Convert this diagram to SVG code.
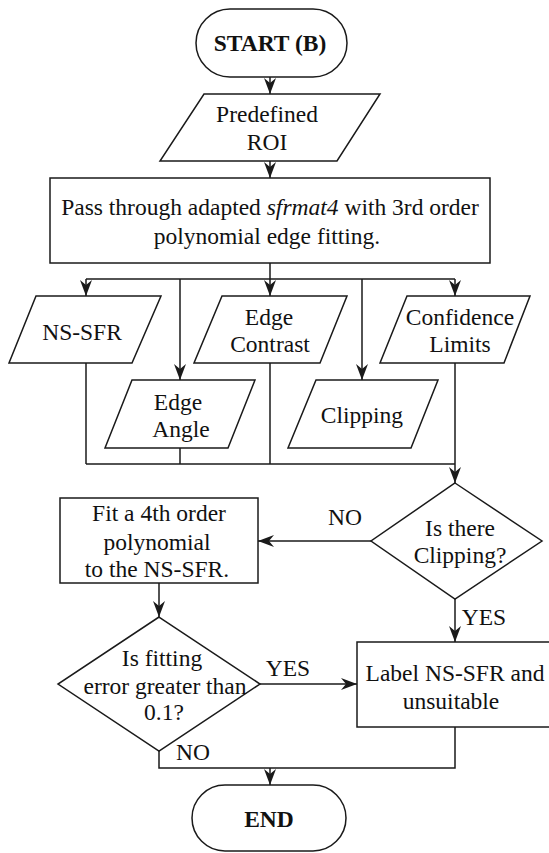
<svg xmlns="http://www.w3.org/2000/svg" width="549" height="853" viewBox="0 0 549 853">
  <style>
    .shape { fill: #ffffff; stroke: #1a1a1a; stroke-width: 1.5; }
    .conn { fill: none; stroke: #1a1a1a; stroke-width: 1.5; }
    .arr { marker-end: url(#ah); }
    text { font-family: "Liberation Serif", "Times New Roman", serif; font-size: 23.5px; fill: #111; text-anchor: middle; dominant-baseline: central; }
    .bold { font-weight: bold; }
  </style>
  <defs>
    <marker id="ah" markerUnits="userSpaceOnUse" viewBox="0 0 16 12" refX="16" refY="6" markerWidth="16" markerHeight="12" orient="auto">
      <path d="M0,0 L16,6 L0,12 L5,6 Z" fill="#1a1a1a"/>
    </marker>
  </defs>
  <rect width="549" height="853" fill="#ffffff"/>

  <g id="connectors">
    <line class="conn arr" x1="270" y1="77" x2="270" y2="94"/>
    <line class="conn arr" x1="270" y1="161" x2="270" y2="178"/>
    <line class="conn" x1="270" y1="263" x2="270" y2="279"/>
    <line class="conn" x1="86" y1="279" x2="455" y2="279"/>
    <line class="conn arr" x1="86" y1="279" x2="86" y2="296"/>
    <line class="conn arr" x1="180" y1="279" x2="180" y2="380"/>
    <line class="conn arr" x1="270" y1="279" x2="270" y2="296"/>
    <line class="conn arr" x1="362" y1="279" x2="362" y2="380"/>
    <line class="conn arr" x1="455" y1="279" x2="455" y2="296"/>
    <line class="conn" x1="86" y1="363" x2="86" y2="464"/>
    <line class="conn" x1="180" y1="448" x2="180" y2="464"/>
    <line class="conn" x1="270" y1="363" x2="270" y2="464"/>
    <line class="conn" x1="86" y1="464" x2="455" y2="464"/>
    <line class="conn arr" x1="455" y1="363" x2="455" y2="483"/>
    <line class="conn arr" x1="371" y1="541" x2="258" y2="541"/>
    <line class="conn arr" x1="455" y1="599" x2="455" y2="642"/>
    <line class="conn arr" x1="159" y1="583" x2="159" y2="617"/>
    <line class="conn arr" x1="260" y1="684" x2="357" y2="684"/>
    <polyline class="conn" points="159,751 159,768 455,768 455,727"/>
    <line class="conn arr" x1="270" y1="768" x2="270" y2="785"/>
    <text x="345" y="517">NO</text>
    <text x="484" y="617">YES</text>
    <text x="288" y="668">YES</text>
    <text x="193" y="752">NO</text>
  </g>

  <g id="start">
    <rect class="shape" x="196" y="9" width="151" height="68" rx="34" ry="34"/>
    <text class="bold" x="270" y="43">START (B)</text>
  </g>

  <g id="predefined-roi">
    <polygon class="shape" points="204,94 380,94 337,161 160,161"/>
    <text x="267" y="114">Predefined</text>
    <text x="267" y="142">ROI</text>
  </g>

  <g id="sfrmat4">
    <rect class="shape" x="50" y="178" width="440" height="85"/>
    <text x="270" y="207">Pass through adapted <tspan font-style="italic">sfrmat4</tspan> with 3rd order</text>
    <text x="267" y="236">polynomial edge fitting.</text>
  </g>

  <g id="ns-sfr">
    <polygon class="shape" points="36,296 161,296 132,363 9,363"/>
    <text x="82" y="332">NS-SFR</text>
  </g>

  <g id="edge-contrast">
    <polygon class="shape" points="222,296 347,296 320,363 194,363"/>
    <text x="269" y="317">Edge</text>
    <text x="270" y="344">Contrast</text>
  </g>

  <g id="confidence-limits">
    <polygon class="shape" points="407,296 530,296 504,363 380,363"/>
    <text x="460" y="317">Confidence</text>
    <text x="460" y="344">Limits</text>
  </g>

  <g id="edge-angle">
    <polygon class="shape" points="132,380 255,380 228,448 105,448"/>
    <text x="178" y="402">Edge</text>
    <text x="181" y="429">Angle</text>
  </g>

  <g id="clipping">
    <polygon class="shape" points="316,380 438,380 411,448 288,448"/>
    <text x="362" y="415">Clipping</text>
  </g>

  <g id="is-clipping">
    <polygon class="shape" points="455,483 542,541 455,599 371,541"/>
    <text x="460" y="528">Is there</text>
    <text x="460" y="555">Clipping?</text>
  </g>

  <g id="fit-polynomial">
    <rect class="shape" x="60" y="498" width="198" height="85"/>
    <text x="159" y="513">Fit a 4th order</text>
    <text x="157" y="542">polynomial</text>
    <text x="157" y="569">to the NS-SFR.</text>
  </g>

  <g id="fitting-error">
    <polygon class="shape" points="159,617 260,684 159,751 58,684"/>
    <text x="162" y="658">Is fitting</text>
    <text x="165" y="686">error greater than</text>
    <text x="164" y="712">0.1?</text>
  </g>

  <g id="label-unsuitable">
    <rect class="shape" x="357" y="642" width="196" height="85"/>
    <text x="455" y="673">Label NS-SFR and</text>
    <text x="451" y="701">unsuitable</text>
  </g>

  <g id="end">
    <rect class="shape" x="192" y="785" width="154" height="66" rx="33" ry="33"/>
    <text class="bold" x="269" y="819">END</text>
  </g>
</svg>
